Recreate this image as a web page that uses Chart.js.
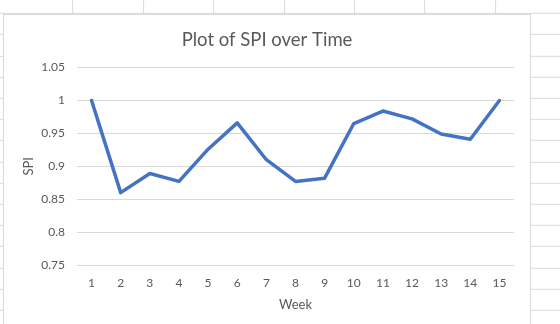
<!DOCTYPE html>
<html>
<head>
<meta charset="utf-8">
<script src="https://cdn.jsdelivr.net/npm/chart.js@4.4.1/dist/chart.umd.min.js"></script>
<style>
  html, body { margin: 0; padding: 0; width: 560px; height: 324px; overflow: hidden; }
  body {
    background-color: #fff;
    background-image:
      repeating-linear-gradient(to right, transparent 0 69.4px, #dadada 69.4px 70.4px),
      repeating-linear-gradient(to bottom, transparent 0 20.2px, #dadada 20.2px 21.2px);
    background-position: 3.1px 0, 0 -7.2px;
  }
  #box { position: absolute; left: 3px; top: 14px; width: 526px; height: 320px; border: 1px solid #d9d9d9; background: #fff; }
  canvas { display: block; }
</style>
</head>
<body>
<div id="box"><canvas id="grafico" width="526" height="309"></canvas></div>
<script>
const semanas = ['1', '2', '3', '4', '5', '6', '7', '8', '9', '10', '11', '12', '13', '14', '15'];
const spi = [1.0, 0.86, 0.889, 0.877, 0.926, 0.966, 0.91, 0.877, 0.882, 0.965, 0.984, 0.972, 0.949, 0.941, 1.0];
const yMin = 0.75;
const yMax = 1.05;
const yPaso = 0.05;

const gris = '#595959';
const fuente = 'Lato, "Open Sans", sans-serif';

const ctx = document.getElementById('grafico').getContext('2d');
new Chart(ctx, {
  type: 'line',
  data: {
    labels: semanas,
    datasets: [{
      label: 'SPI',
      data: spi,
      borderColor: '#4472C4',
      borderWidth: 3.5,
      borderJoinStyle: 'round',
      borderCapStyle: 'round',
      pointRadius: 0,
      tension: 0,
      fill: false
    }]
  },
  options: {
    responsive: false,
    animation: false,
    devicePixelRatio: 1,
    layout: { padding: { left: 16, right: 16, top: 0, bottom: 0 } },
    plugins: {
      legend: { display: false },
      tooltip: { enabled: false },
      title: {
        display: true,
        text: 'Plot of SPI over Time',
        color: gris,
        font: { family: fuente, size: 18.5, weight: 'normal' },
        padding: { top: 13.5, bottom: 16.9 }
      }
    },
    scales: {
      x: {
        offset: true,
        grid: { display: false, drawTicks: false },
        border: { display: false },
        ticks: { color: gris, font: { family: fuente, size: 12 }, padding: 10.5, maxRotation: 0 },
        title: {
          display: true,
          text: 'Week',
          color: gris,
          font: { family: fuente, size: 13 },
          padding: { top: 0, bottom: 11 }
        },
        afterFit: scale => { scale.height = 59; }
      },
      y: {
        min: yMin,
        max: yMax,
        grid: { color: '#d9d9d9', lineWidth: 1, drawTicks: false },
        border: { display: false },
        ticks: {
          stepSize: yPaso,
          color: gris,
          font: { family: fuente, size: 12 },
          padding: 12,
          callback: v => String(Number(v.toFixed(2)))
        },
        title: {
          display: true,
          text: 'SPI',
          color: gris,
          font: { family: fuente, size: 13 },
          padding: { top: 1.2, bottom: 0 }
        },
        afterFit: scale => { scale.width = 57; }
      }
    }
  }
});
</script>
</body>
</html>
